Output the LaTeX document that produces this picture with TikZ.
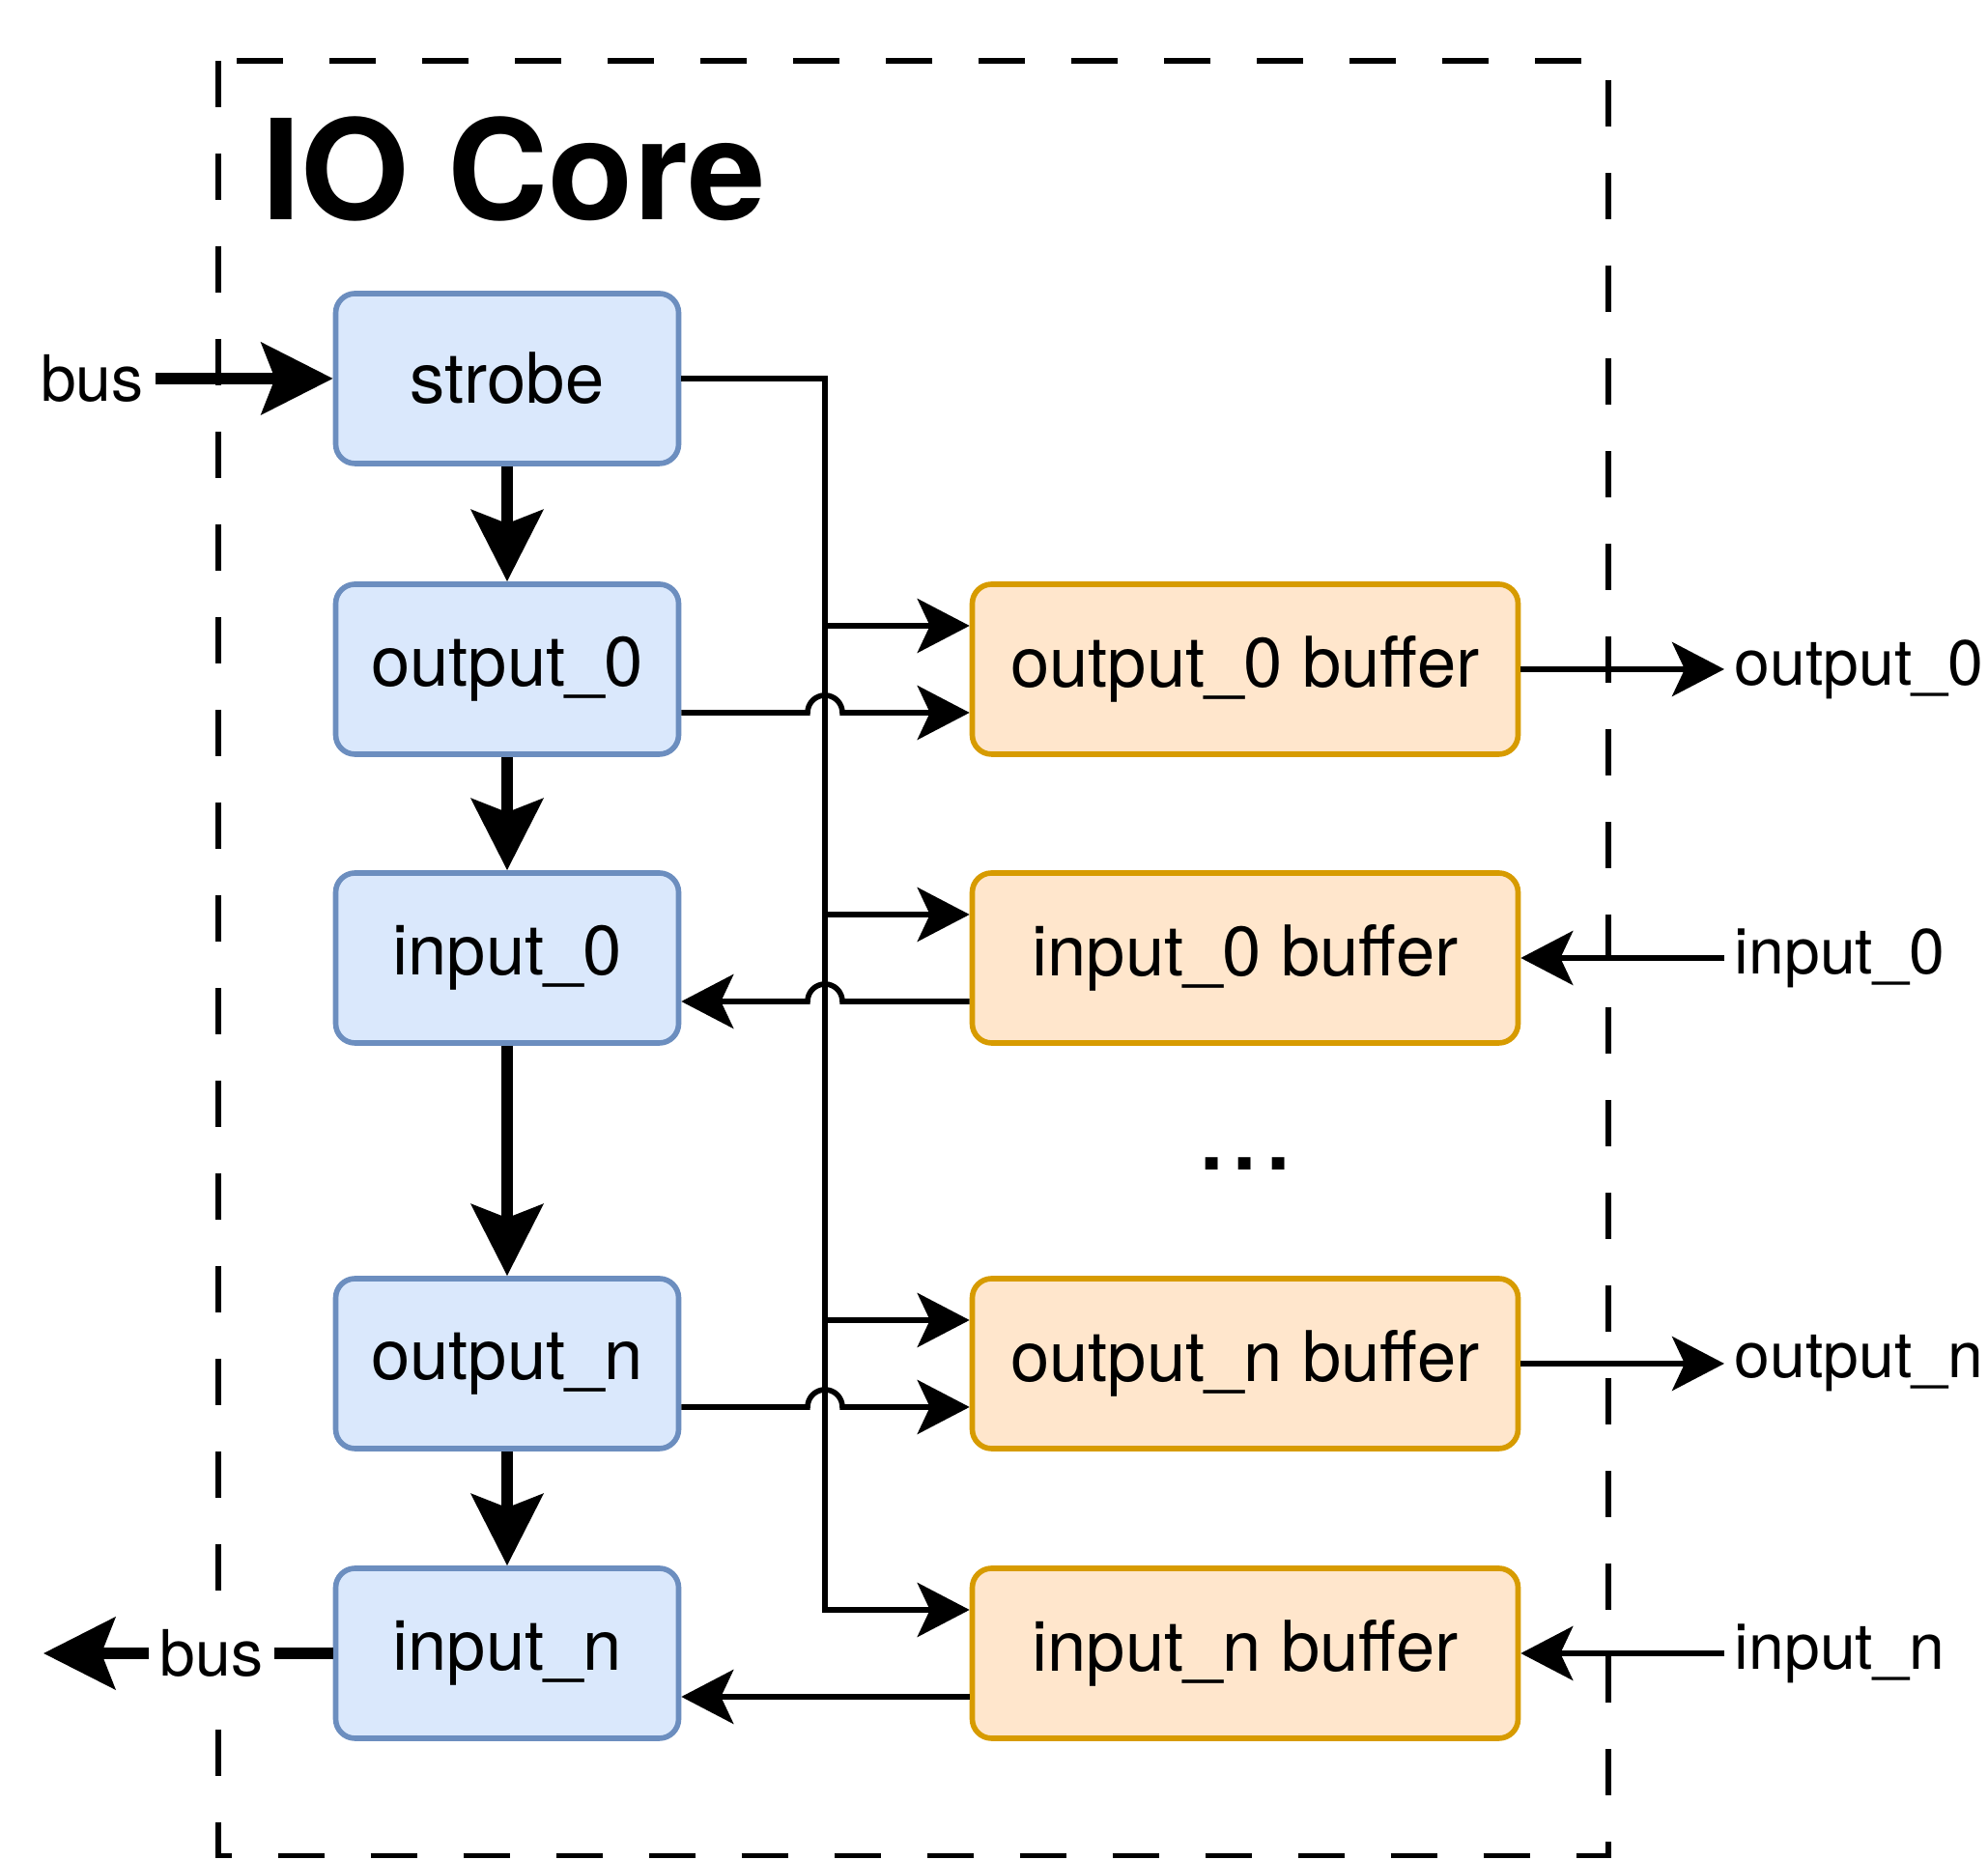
\documentclass[tikz,border=0pt]{standalone}
\usepackage{
	fontspec,			% System Fonts
	tikz
}
\usetikzlibrary{arrows.meta,calc}
\setmainfont{TeX Gyre Heros}

\definecolor{regfill}{HTML}{DAE8FC}
\definecolor{regedge}{HTML}{6C8EBF}
\definecolor{buffill}{HTML}{FFE6CC}
\definecolor{bufedge}{HTML}{D79B00}

\tikzset{
	reg/.style={draw=regedge, fill=regfill, line width=1.6pt, rounded corners=2mm, minimum width=3.55cm, minimum height=1.76cm, font=\fontsize{20.6}{24}\selectfont},
	buf/.style={reg, draw=bufedge, fill=buffill, minimum width=5.65cm},
	portlabel/.style={font=\fontsize{18.8}{22}\selectfont},
	link/.style={line width=1.6pt, -{Stealth[length=5.4mm, width=5.6mm, inset=1.3mm]}},
	busarrow/.style={line width=3.2pt, -{Stealth[length=7.4mm, width=7.4mm, inset=1.4mm]}}
}

\begin{document}
\begin{tikzpicture}
	\useasboundingbox (0,0) rectangle (20.58,19.26);
	\draw[line width=1.7pt, dash pattern=on 4.8mm off 4.8mm] (2.26,18.63) rectangle (16.65,0.045); % Core border.
	\node[anchor=base west, inner sep=0, font=\fontsize{41}{48}\selectfont\bfseries] (title) at (2.71,16.98) {IO Core};

	\node[reg] (strobe) at (5.25,15.34) {strobe};
	\node[reg] (out0) at (5.25,12.33) {output\_0};
	\node[reg] (in0) at (5.25,9.34) {input\_0};
	\node[reg] (outn) at (5.25,5.14) {output\_n};
	\node[reg] (inn) at (5.25,2.14) {input\_n};

	\node[buf] (out0buf) at (12.89,12.33) {output\_0 buffer};
	\node[buf] (in0buf) at (12.89,9.34) {input\_0 buffer};
	\node[buf] (outnbuf) at (12.89,5.14) {output\_n buffer};
	\node[buf] (innbuf) at (12.89,2.14) {input\_n buffer};
	\node[anchor=base, font=\fontsize{35}{40}\selectfont] (dots) at (12.89,7.14) {...};

	% Bus in and out.
	\node[portlabel] (busin) at (0.955,15.34) {bus};
	\draw[busarrow] (busin) -- (strobe);
	\coordinate (busout) at (0.45,2.14);
	\draw[busarrow] (inn) -- node[portlabel, fill=white, pos=0.42] (busoutlabel) {bus} (busout);
	\foreach \a/\b in {strobe/out0, out0/in0, in0/outn, outn/inn}
		\draw[busarrow] (\a) -- (\b);

	% Strobe lines.
	\coordinate (vtop) at (8.54,15.34);
	\draw[link] (strobe) -- (vtop) |- ([yshift=4.5mm]innbuf.west);
	\foreach \b in {out0buf, in0buf, outnbuf}
		\draw[link] ([yshift=4.5mm]\b.west -| vtop) -- ([yshift=4.5mm]\b.west);

	% Data lines, hopping over the strobe line.
	\foreach \a/\b in {out0/out0buf, outn/outnbuf}
		\draw[link] ([yshift=-4.5mm]\a.east) -- ([xshift=-1.8mm,yshift=-4.5mm]\a.east -| vtop) arc[start angle=180, end angle=0, radius=1.8mm] -- ([yshift=-4.5mm]\b.west);
	\draw[link] ([yshift=-4.5mm]in0buf.west) -- ([xshift=1.8mm,yshift=-4.5mm]in0buf.west -| vtop) arc[start angle=0, end angle=180, radius=1.8mm] -- ([yshift=-4.5mm]in0.east);
	\draw[link] ([yshift=-4.5mm]innbuf.west) -- ([yshift=-4.5mm]inn.east);

	% Outside ports.
	\node[portlabel, anchor=west, inner sep=1mm] (out0port) at (17.85,12.33) {output\_0};
	\node[portlabel, anchor=west, inner sep=1mm] (in0port) at (17.85,9.34) {input\_0};
	\node[portlabel, anchor=west, inner sep=1mm] (outnport) at (17.85,5.14) {output\_n};
	\node[portlabel, anchor=west, inner sep=1mm] (innport) at (17.85,2.14) {input\_n};
	\draw[link] (out0buf) -- (out0port);
	\draw[link] (in0port) -- (in0buf);
	\draw[link] (outnbuf) -- (outnport);
	\draw[link] (innport) -- (innbuf);
\end{tikzpicture}
\end{document}
